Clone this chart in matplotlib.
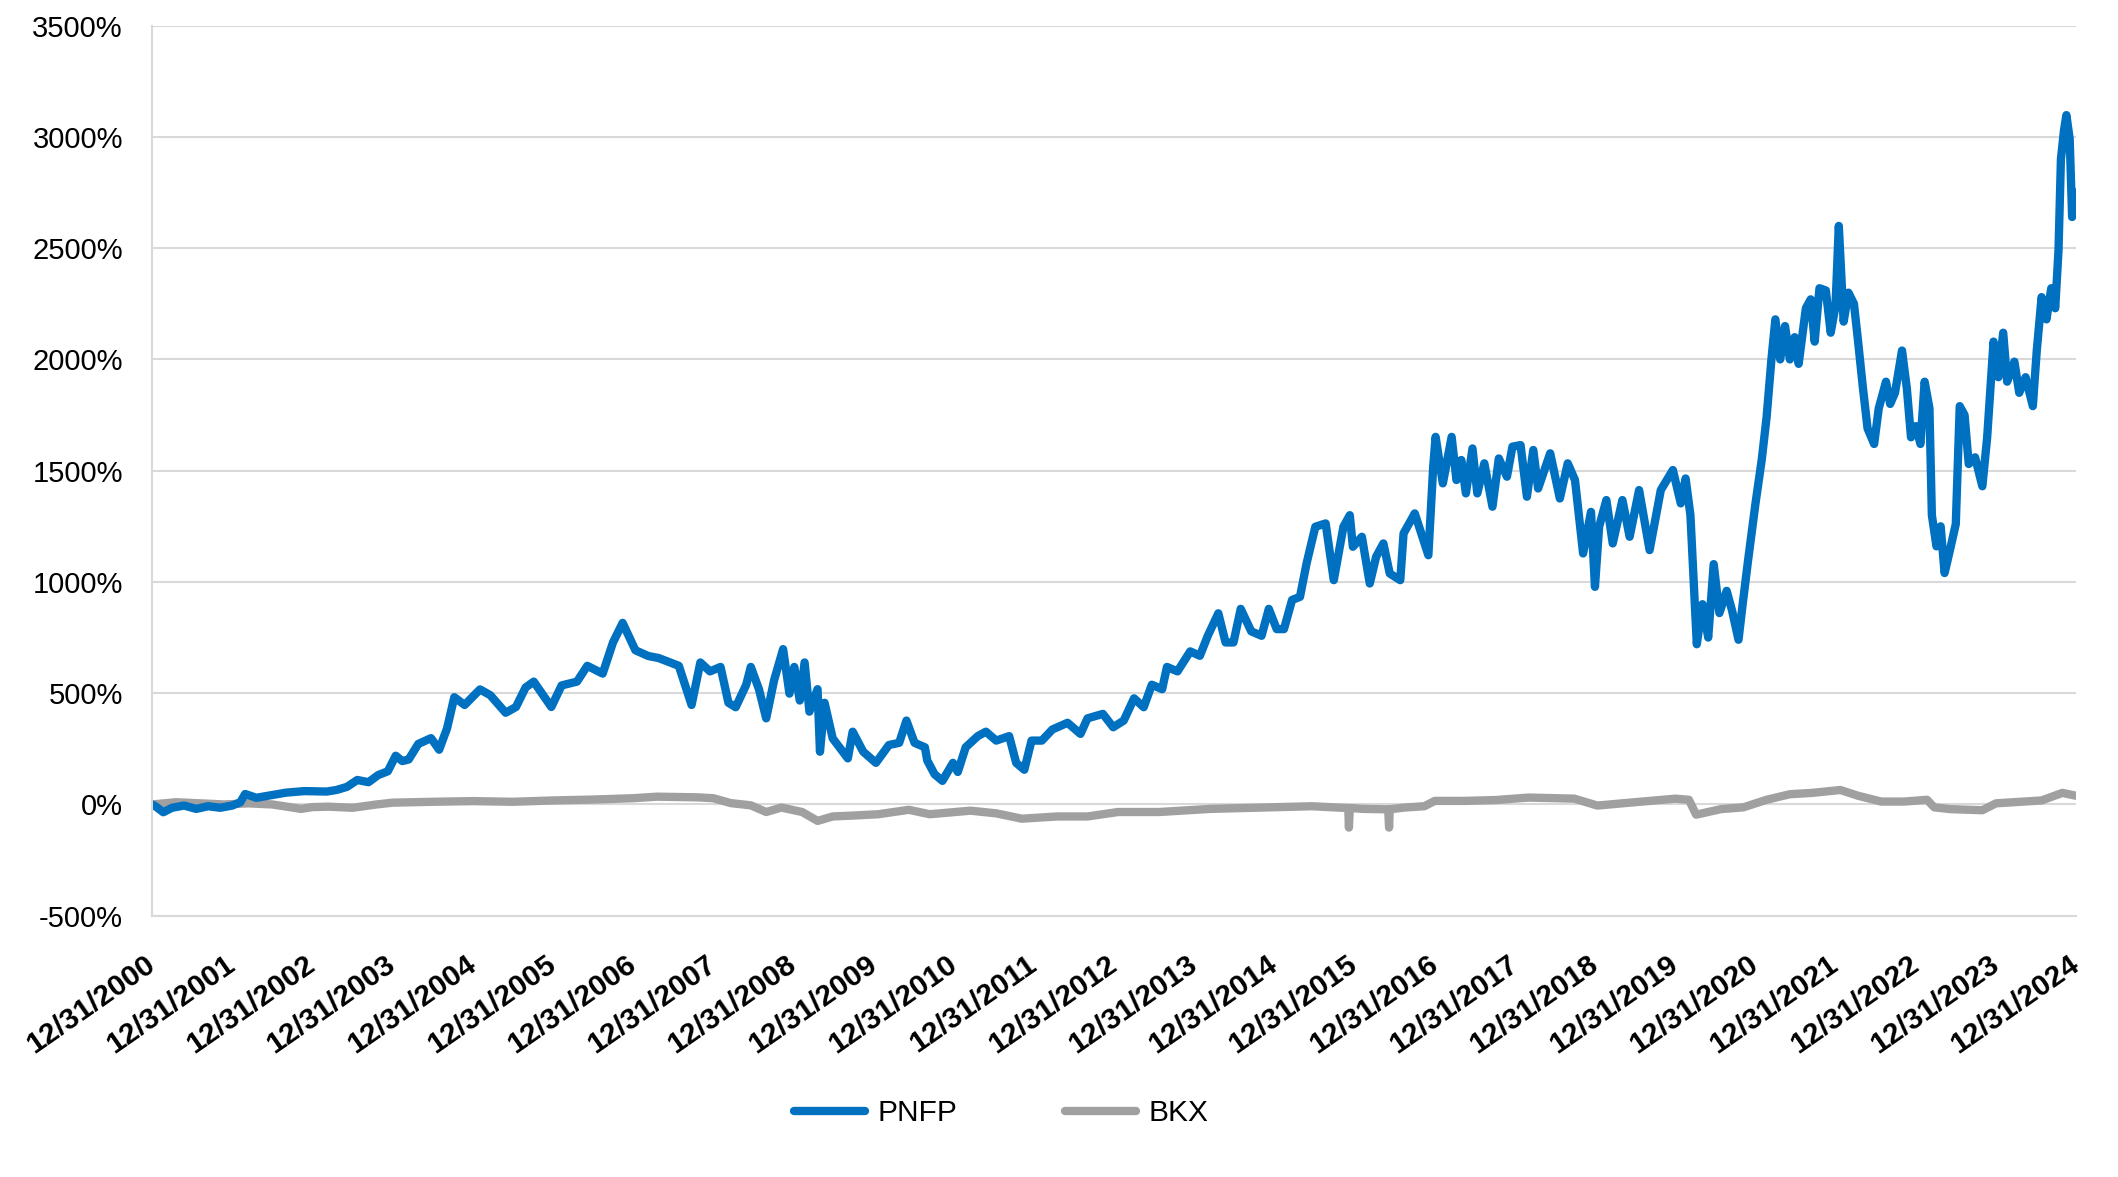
import numpy as np
import matplotlib
matplotlib.use("Agg")
import matplotlib.pyplot as plt
import matplotlib.transforms as mtransforms
from matplotlib.ticker import FuncFormatter

plt.rcParams['font.family'] = ['Liberation Sans', 'DejaVu Sans']

# time in years after 12/31/2000, cumulative return in %
pnfp_t = [0, 0.05, 0.14, 0.25, 0.4, 0.55, 0.7, 0.85, 1.0, 1.1, 1.16, 1.3, 1.46, 1.67, 1.9,
          2.18, 2.3, 2.43, 2.56, 2.7, 2.82, 2.94, 3.04, 3.12, 3.2, 3.32, 3.48, 3.58, 3.68,
          3.77, 3.9, 4.09, 4.22, 4.41, 4.54, 4.66, 4.76, 4.98, 5.11, 5.3, 5.43, 5.62, 5.75,
          5.87, 6.03, 6.19, 6.32, 6.57, 6.73, 6.84, 6.96, 7.09, 7.19, 7.28, 7.41, 7.47, 7.57,
          7.66, 7.76, 7.87, 7.95, 8.01, 8.08, 8.14, 8.2, 8.3, 8.33, 8.39, 8.49, 8.68, 8.74,
          8.87, 9.03, 9.19, 9.32, 9.41, 9.51, 9.64, 9.67, 9.76, 9.86, 9.99, 10.05, 10.15,
          10.3, 10.4, 10.53, 10.69, 10.78, 10.88, 10.97, 11.1, 11.23, 11.42, 11.58, 11.67,
          11.86, 11.99, 12.12, 12.25, 12.37, 12.47, 12.6, 12.66, 12.79, 12.95, 13.07, 13.17,
          13.3, 13.39, 13.49, 13.58, 13.71, 13.84, 13.93, 14.03, 14.12, 14.22,
          14.32, 14.4, 14.51, 14.64, 14.74, 14.86, 14.94, 14.98, 15.09, 15.19, 15.27, 15.36,
          15.44, 15.57, 15.61, 15.75, 15.92, 15.98, 16.01, 16.1, 16.21, 16.27, 16.33, 16.39,
          16.47, 16.53, 16.62, 16.72, 16.8, 16.9, 16.97, 17.07, 17.15, 17.23, 17.29, 17.44,
          17.56, 17.66, 17.75, 17.85, 17.95, 18.0, 18.05, 18.14, 18.22, 18.34, 18.43, 18.55,
          18.68, 18.82, 18.97, 19.07, 19.13, 19.19,
          19.23, 19.27, 19.34, 19.41, 19.48, 19.55, 19.64, 19.71, 19.79, 19.84, 19.91, 20.0,
          20.08, 20.14, 20.2, 20.25, 20.31, 20.37, 20.43, 20.49, 20.54, 20.63, 20.69, 20.74,
          20.8, 20.88, 20.94, 21.0, 21.04, 21.1, 21.16, 21.23, 21.28, 21.34, 21.4, 21.48,
          21.54, 21.63, 21.68, 21.74, 21.83, 21.89, 21.94, 22.0, 22.06, 22.11, 22.17, 22.2,
          22.26, 22.31, 22.36, 22.43, 22.5, 22.55, 22.61, 22.66, 22.74, 22.83, 22.89, 22.97,
          23.03, 23.09, 23.14, 23.23, 23.29, 23.37, 23.46, 23.51, 23.57, 23.63, 23.69, 23.74,
          23.78, 23.81, 23.85, 23.88, 23.92, 23.95, 23.98, 24.0]
pnfp = [0, -10, -35, -15, -5, -20, -8, -15, -5, 10, 47, 30, 40, 53, 60,
        58, 65, 79, 110, 100, 132, 149, 219, 195, 202, 272, 298, 246, 342,
        482, 447, 517, 491, 412, 438, 526, 552, 438, 535, 552, 623, 588, 728,
        816, 693, 667, 658, 623, 447, 638, 598, 618, 457, 437, 538, 618, 518,
        387, 558, 698, 498, 618, 467, 638, 417, 518, 237, 457, 297, 207, 327,
        237, 187, 267, 277, 377, 277, 257, 197, 136, 106, 187, 146, 257,
        307, 327, 287, 307, 187, 156, 287, 287, 337, 367, 317, 387,
        407, 347, 377, 477, 437, 538, 518, 618, 598, 688, 668, 758,
        859, 728, 728, 879, 778, 758, 879, 788, 788, 919,
        933, 1083, 1248, 1263, 1008, 1248, 1300, 1158, 1203, 993, 1113, 1173,
        1038, 1008, 1218, 1308, 1120, 1518, 1652, 1443, 1652, 1458, 1548, 1398,
        1600, 1398, 1533, 1338, 1555, 1473, 1608, 1615, 1383, 1593, 1420, 1578,
        1375, 1533, 1458, 1128, 1315, 978, 1248, 1368, 1173, 1368, 1203, 1413,
        1143, 1413, 1503, 1353, 1465, 1300,
        1000, 720, 900, 750, 1080, 860, 960, 870, 740, 900, 1100, 1350,
        1550, 1740, 2000, 2180, 2000, 2150, 2000, 2100, 1980, 2230, 2270, 2080,
        2320, 2310, 2120, 2240, 2600, 2170, 2300, 2250, 2080, 1880, 1690, 1620,
        1780, 1900, 1800, 1850, 2040, 1870, 1650, 1700, 1620, 1900, 1780, 1300,
        1160, 1250, 1040, 1150, 1260, 1790, 1750, 1530, 1560, 1430, 1650, 2080,
        1920, 2120, 1900, 1990, 1850, 1920, 1790, 2040, 2280, 2180, 2320, 2230,
        2490, 2900, 3030, 3098, 2990, 2640, 2750, 2717]

bkx_t = [0, 0.3, 0.6, 0.9, 1.2, 1.5, 1.86, 2.0, 2.2, 2.5, 2.8, 3.0, 3.5, 4.0, 4.5, 5.0,
         5.5, 6.0, 6.3, 6.8, 7.0, 7.22, 7.47, 7.66, 7.85, 8.11, 8.3, 8.49, 8.74, 9.06,
         9.44, 9.7, 10.21, 10.53, 10.85, 11.29, 11.67, 12.05, 12.56, 13.2, 13.84, 14.47,
         14.79, 14.92, 14.93, 14.94, 15.11, 15.42, 15.43, 15.44, 15.62, 15.87, 16.0, 16.38,
         16.77, 17.17, 17.74, 18.03, 18.43, 19.0, 19.17, 19.26, 19.57, 19.85, 20.14, 20.43,
         20.71, 21.06, 21.28, 21.57, 21.86, 22.14, 22.23, 22.43, 22.83, 23.0, 23.57, 23.83, 24.0]
bkx = [0, 10, 5, 0, 5, 0, -20, -12, -10, -15, 0, 8, 12, 15, 12, 18,
       22, 28, 35, 32, 28, 6, -4, -34, -14, -34, -74, -54, -50, -44,
       -24, -44, -28, -40, -64, -54, -54, -34, -34, -20, -14, -8,
       -14, -16, -104, -16, -20, -22, -104, -22, -14, -8, 16, 16,
       20, 31, 26, -5, 8, 26, 21, -46, -21, -13, 21, 46,
       52, 65, 39, 13, 13, 21, -13, -21, -26, 5, 18, 52, 39]

year_ticks = ['12/31/%d' % y for y in range(2000, 2025)]

start = np.datetime64('2000-12-31')
def to_dates(t):
    days = np.round(np.array(t) * 365.25).astype(int)
    return start + days.astype('timedelta64[D]')

fig = plt.figure(figsize=(21.18, 11.77), dpi=100)
ax = fig.add_axes([0.0718, 0.222, 0.9084, 0.7562])

l2, = ax.plot(to_dates(bkx_t), bkx, color='#A0A0A0', lw=6,
              solid_joinstyle='round', solid_capstyle='round', label='BKX')
l1, = ax.plot(to_dates(pnfp_t), pnfp, color='#0070C0', lw=6,
              solid_joinstyle='round', solid_capstyle='round', label='PNFP')

ax.set_ylim(-500, 3500)
ax.set_yticks(range(-500, 3501, 500))
ax.yaxis.set_major_formatter(FuncFormatter(lambda v, p: '%d%%' % v))
ax.set_xlim(start, np.datetime64('2024-12-31'))
tick_dates = [np.datetime64('%d-12-31' % y) for y in range(2000, 2025)]
ax.set_xticks(tick_dates)
ax.set_xticklabels(year_ticks, rotation=35, ha='right', va='top',
                   rotation_mode='anchor', fontweight='bold', fontsize=21.5)
ax.tick_params(axis='x', length=0, pad=25)
ax.tick_params(axis='y', length=0, pad=21, labelsize=21)
shift = mtransforms.ScaledTranslation(-0.08, 0, fig.dpi_scale_trans)
for lab in ax.get_xticklabels():
    lab.set_transform(lab.get_transform() + shift)

ax.grid(axis='y', color='#D9D9D9', lw=1.5)
ax.set_axisbelow(True)
for s in ['top', 'right']:
    ax.spines[s].set_visible(False)
for s in ['left', 'bottom']:
    ax.spines[s].set_color('#D9D9D9')
    ax.spines[s].set_linewidth(1.5)

fig.legend([l1, l2], ['PNFP', 'BKX'], loc='center', bbox_to_anchor=(0.4725, 0.0544),
           ncol=2, frameon=False, fontsize=21.5, handlelength=2.4, handletextpad=0.4,
           columnspacing=3.6)

fig.savefig('out.png', dpi=100)
